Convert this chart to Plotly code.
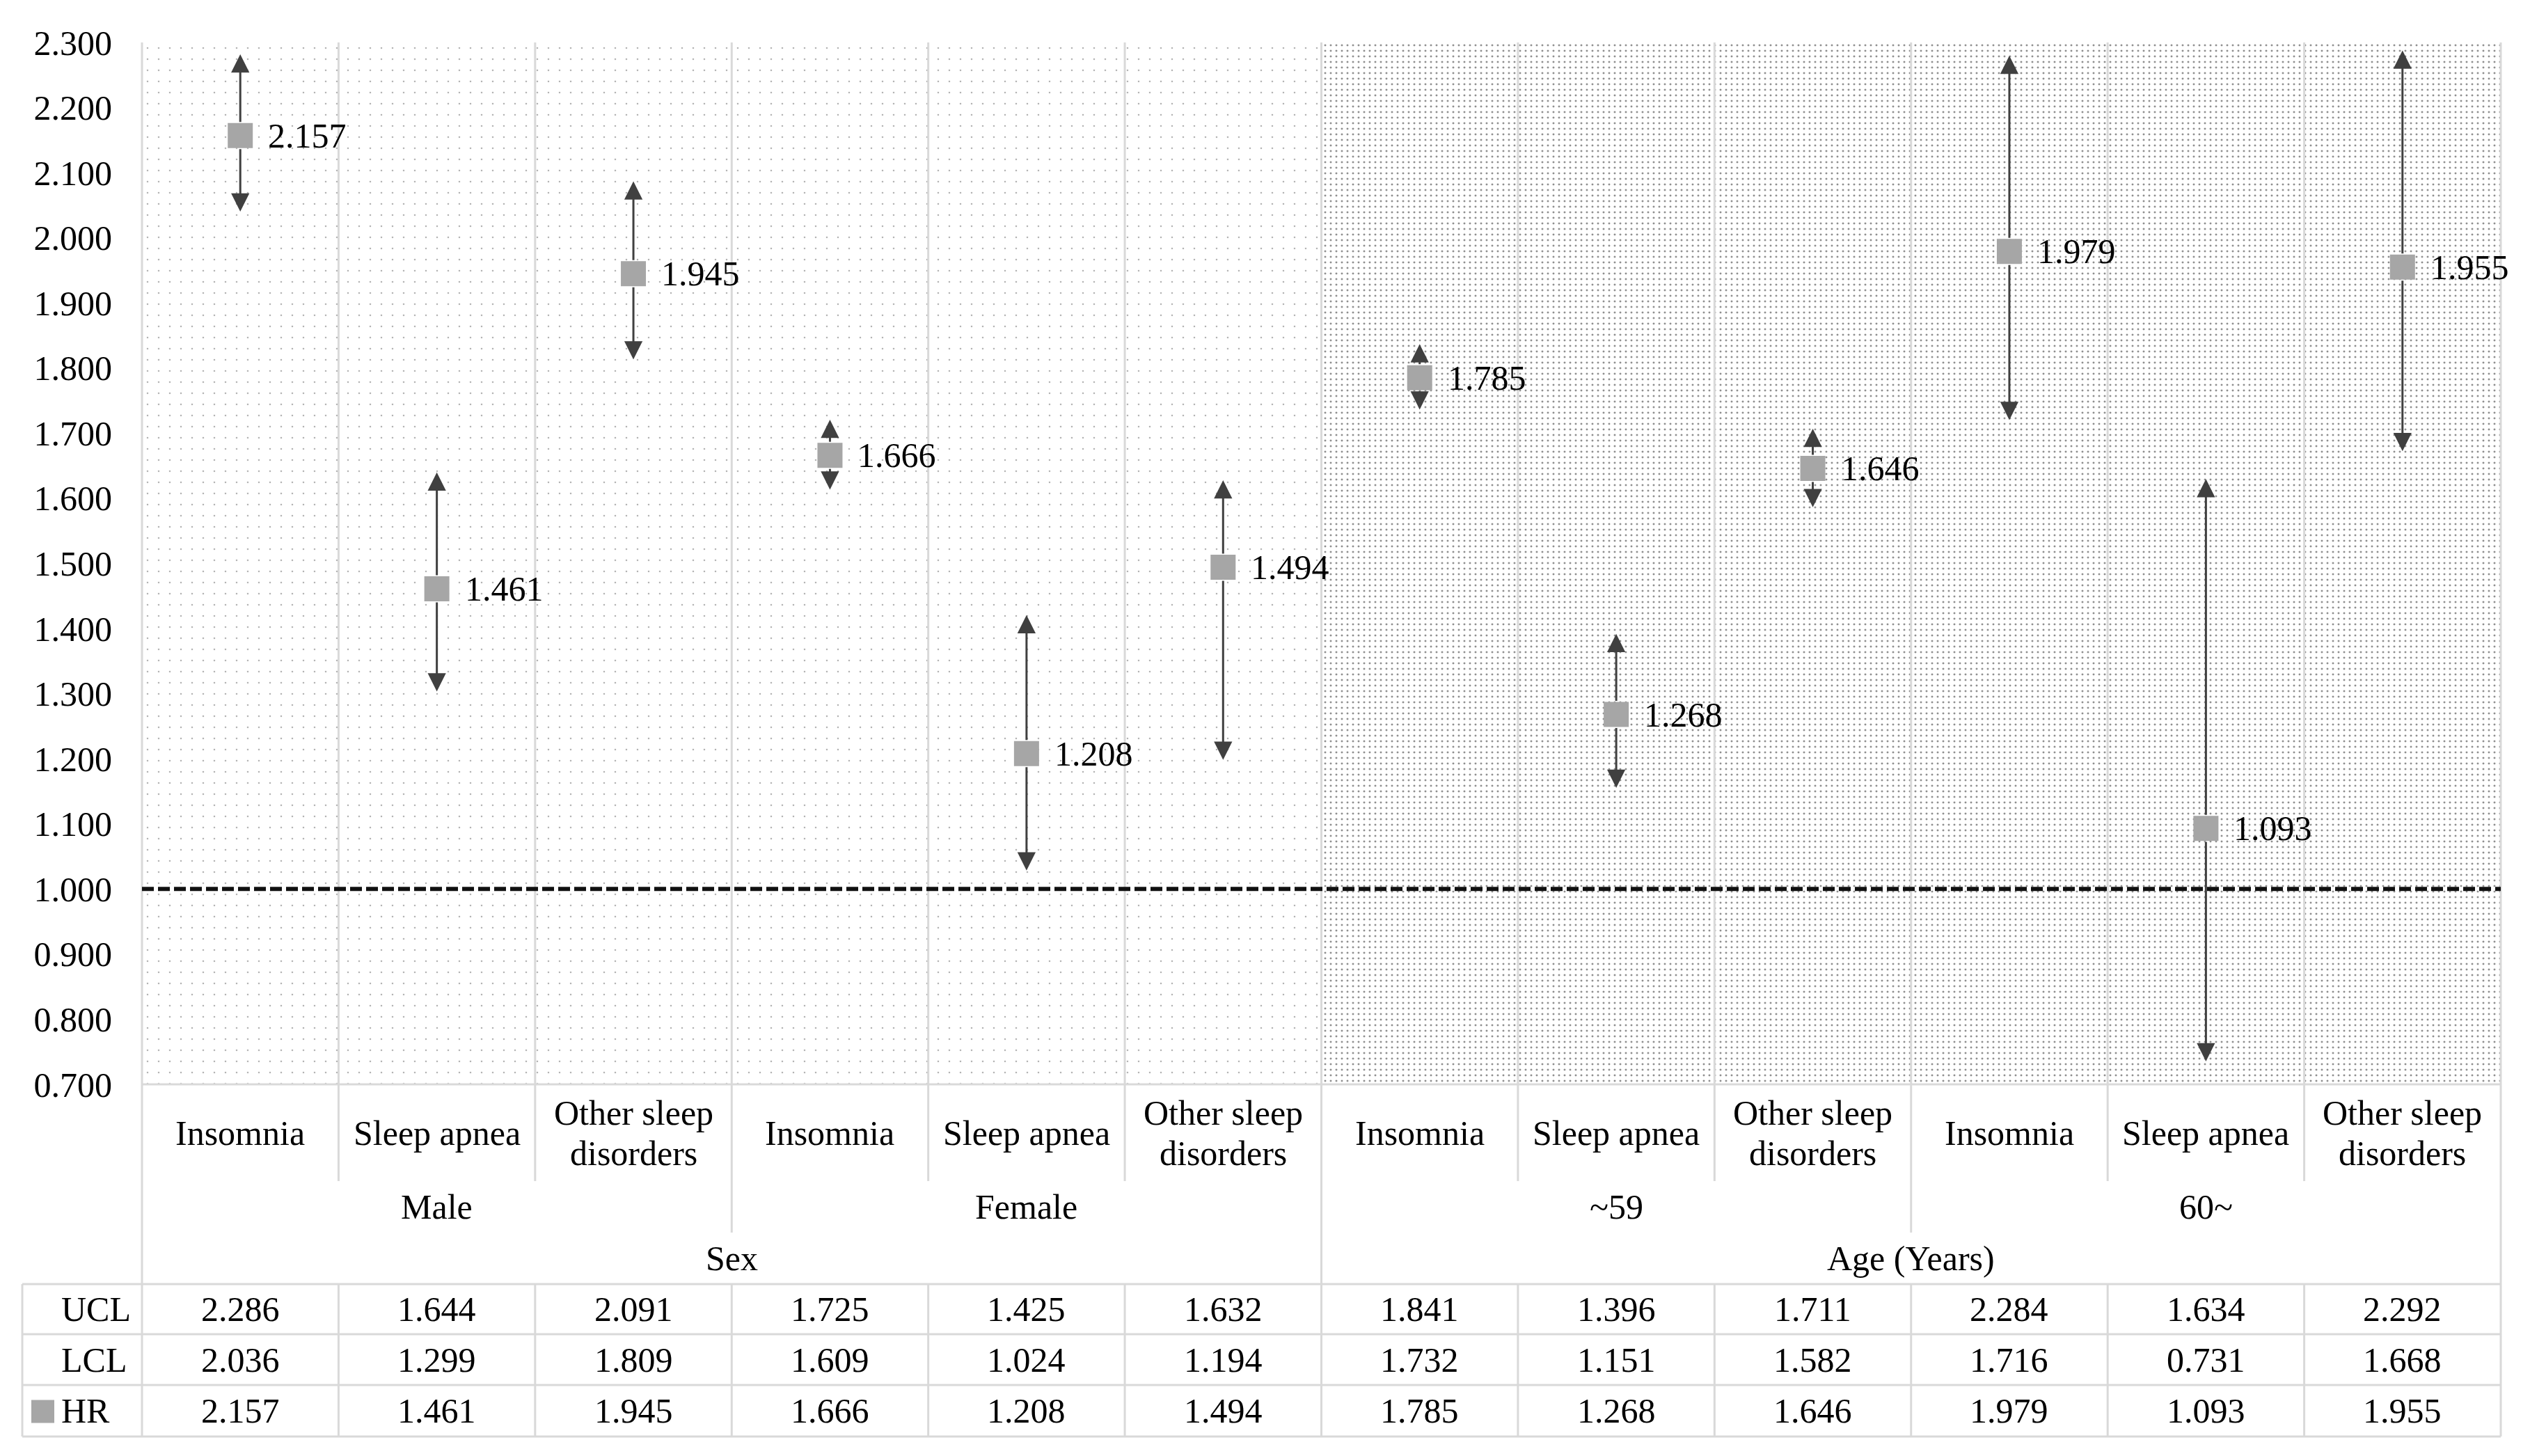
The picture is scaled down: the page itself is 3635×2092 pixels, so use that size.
import plotly.graph_objects as go

# ---------------- data ----------------
SUBGROUPS = ["Insomnia", "Sleep apnea", "Other sleep disorders",
             "Insomnia", "Sleep apnea", "Other sleep disorders",
             "Insomnia", "Sleep apnea", "Other sleep disorders",
             "Insomnia", "Sleep apnea", "Other sleep disorders"]
GROUPS = ["Male", "Female", "~59", "60~"]
SUPERGROUPS = ["Sex", "Age (Years)"]
UCL = [2.286, 1.644, 2.091, 1.725, 1.425, 1.632, 1.841, 1.396, 1.711, 2.284, 1.634, 2.292]
LCL = [2.036, 1.299, 1.809, 1.609, 1.024, 1.194, 1.732, 1.151, 1.582, 1.716, 0.731, 1.668]
HR = [2.157, 1.461, 1.945, 1.666, 1.208, 1.494, 1.785, 1.268, 1.646, 1.979, 1.093, 1.955]
REF_LINE = 1.0
Y_TICKS = [0.7, 0.8, 0.9, 1.0, 1.1, 1.2, 1.3, 1.4, 1.5, 1.6, 1.7, 1.8, 1.9, 2.0, 2.1, 2.2, 2.3]
ROW_LABELS = ["UCL", "LCL", "HR"]

# ---------------- layout constants (screen pixels; page body has an 8px margin) ----------------
OFF = 8
W, H = 3635 - 2 * OFF, 2092 - 2 * OFF
S_LEFT, S_RIGHT, S_TOP, S_BOTTOM = 204, 3593, 61, 1558
ML = S_LEFT - OFF
MT = S_TOP - OFF
MR = W - (S_RIGHT - OFF)
MB = H - (S_BOTTOM - OFF)
PLOT_W = S_RIGHT - S_LEFT
PLOT_H = S_BOTTOM - S_TOP
CAT_W = PLOT_W / 12.0

FONT = "Liberation Serif"
FS = 50
GRID = "#d9d9d9"
ARROW = "#404040"
MARK = "#a6a6a6"


def py(Y):
    """screen row -> paper y"""
    return (S_BOTTOM - Y) / PLOT_H


def pxp(X):
    """screen column -> paper x"""
    return (X - S_LEFT) / PLOT_W


def xp(xd):
    """x data -> paper x"""
    return (xd + 0.5) / 12.0


n = len(HR)
xs = list(range(n))

fig = go.Figure()

span = Y_TICKS[-1] - Y_TICKS[0]
fig.add_trace(go.Bar(
    x=xs[:6], y=[span] * 6, base=Y_TICKS[0], width=1,
    marker=dict(color="white", line=dict(width=0),
                pattern=dict(shape=".", fgcolor="#b4b4b4", bgcolor="white",
                             size=16, solidity=0.02, fillmode="replace")),
    hoverinfo="skip", showlegend=False))
fig.add_trace(go.Bar(
    x=xs[6:], y=[span] * 6, base=Y_TICKS[0], width=1,
    marker=dict(color="white", line=dict(width=0),
                pattern=dict(shape=".", fgcolor="#8f8f8f", bgcolor="white",
                             size=8, solidity=0.11, fillmode="replace")),
    hoverinfo="skip", showlegend=False))

fig.add_trace(go.Scatter(
    x=xs, y=HR, mode="markers",
    marker=dict(symbol="square", size=36, color=MARK, line=dict(width=0)),
    name="HR", showlegend=False, hoverinfo="skip"))

shapes = []
annotations = []


def vline(xpaper, y0, y1, color=GRID, width=3):
    shapes.append(dict(type="line", xref="paper", yref="paper", x0=xpaper, x1=xpaper,
                       y0=y0, y1=y1, line=dict(color=color, width=width), layer="above"))


def hline(y, x0, x1, color=GRID, width=3):
    shapes.append(dict(type="line", xref="paper", yref="paper", x0=x0, x1=x1, y0=y, y1=y,
                       line=dict(color=color, width=width), layer="above"))


TABLE_TOP, TABLE_BOT = 1845, 2064
CAT_BOT, GROUP_BOT = 1697, 1771
TABLE_LEFT = pxp(32)

for k in range(n + 1):
    b = xp(k - 0.5)
    vline(b, 0, 1)
    if k in (0, n, 6):
        vline(b, 0, py(TABLE_BOT))
    elif k in (3, 9):
        vline(b, 0, py(GROUP_BOT))
        vline(b, py(TABLE_TOP), py(TABLE_BOT))
    else:
        vline(b, 0, py(CAT_BOT))
        vline(b, py(TABLE_TOP), py(TABLE_BOT))

hline(0, 0, 1)
for Yr in (TABLE_TOP, 1917, 1990, TABLE_BOT):
    hline(py(Yr), TABLE_LEFT, 1)
vline(TABLE_LEFT, py(TABLE_TOP), py(TABLE_BOT))

shapes.append(dict(type="line", xref="paper", yref="y", x0=0, x1=1, y0=REF_LINE, y1=REF_LINE,
                   line=dict(color="#111111", width=6, dash="17px,6px"), layer="above"))

# legend square in table
sq_cx, sq_cy, sq_h = 61.5, 2028, 16.5
shapes.append(dict(type="rect", xref="paper", yref="paper",
                   x0=pxp(sq_cx - sq_h), x1=pxp(sq_cx + sq_h),
                   y0=py(sq_cy + sq_h), y1=py(sq_cy - sq_h),
                   fillcolor=MARK, line=dict(width=0), layer="above"))

for i in xs:
    for end in (UCL[i], LCL[i]):
        annotations.append(dict(
            x=i, y=end, ax=i, ay=HR[i], xref="x", yref="y", axref="x", ayref="y",
            text="", showarrow=True, arrowhead=2, arrowsize=1.75, arrowwidth=3,
            arrowcolor=ARROW, startstandoff=18, standoff=4))
    annotations.append(dict(
        x=i, y=HR[i], xref="x", yref="y", text=f"{HR[i]:.3f}", showarrow=False,
        xanchor="left", yanchor="middle", xshift=38,
        font=dict(family=FONT, size=FS, color="black")))


def label(xpaper, Y, text, anchor="center"):
    annotations.append(dict(
        x=xpaper, y=py(Y), xref="paper", yref="paper", text=text, showarrow=False,
        xanchor=anchor, yanchor="middle",
        font=dict(family=FONT, size=FS, color="black")))


for i, lab in enumerate(SUBGROUPS):
    if lab == "Other sleep disorders":
        label(xp(i), 1599, "Other sleep")
        label(xp(i), 1657, "disorders")
    else:
        label(xp(i), 1628, lab)

for g, lab in enumerate(GROUPS):
    label(xp(3 * g + 1), 1734, lab)

for s, lab in enumerate(SUPERGROUPS):
    label(xp(6 * s + 2.5), 1808, lab)

row_y = [1881, 1954, 2027]
for r, (lab, vals) in enumerate(zip(ROW_LABELS, [UCL, LCL, HR])):
    label(pxp(86), row_y[r], lab, anchor="left")
    for i in xs:
        label(xp(i), row_y[r], f"{vals[i]:.3f}")

fig.update_layout(
    width=W, height=H,
    margin=dict(l=ML, r=MR, t=MT, b=MB, pad=0),
    paper_bgcolor="white", plot_bgcolor="white",
    barmode="overlay", bargap=0,
    showlegend=False,
    font=dict(family=FONT, size=FS, color="black"),
    shapes=shapes, annotations=annotations,
    xaxis=dict(range=[-0.5, n - 0.5], showgrid=False, zeroline=False,
               showticklabels=False, showline=False, ticks=""),
    yaxis=dict(range=[Y_TICKS[0], Y_TICKS[-1]], tickvals=Y_TICKS,
               ticktext=[f"{v:.3f}" for v in Y_TICKS],
               showgrid=False, zeroline=False, showline=False, ticks="",
               ticklabelstandoff=42,
               tickfont=dict(family=FONT, size=FS, color="black")),
)

fig.write_html("out.html")
